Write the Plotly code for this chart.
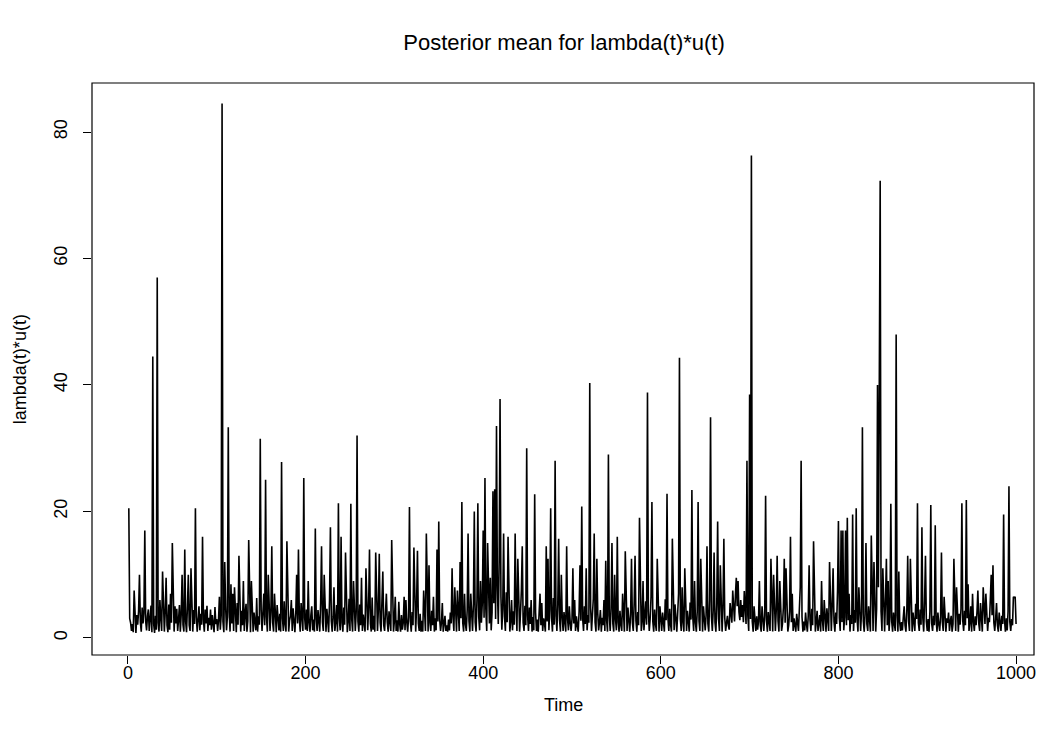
import plotly.graph_objects as go

# Posterior mean of lambda(t)*u(t), t = 1..1000 in blocks of 100
vals_001_100 = [
    20.5, 3.1, 2.4, 1.1, 2.2, 0.9, 7.5, 2.0, 0.8, 3.6,
    2.1, 4.2, 10.0, 2.5, 1.0, 4.8, 2.3, 3.9, 17.0, 2.6,
    1.2, 3.4, 4.5, 1.1, 2.8, 5.1, 0.9, 44.5, 2.2, 0.8,
    3.5, 1.3, 57.0, 2.4, 1.0, 6.0, 3.1, 1.1, 10.5, 2.7,
    1.0, 4.1, 9.5, 2.0, 0.9, 5.3, 1.3, 7.0, 2.4, 15.0,
    3.2, 1.0, 5.0, 2.3, 4.6, 1.1, 2.9, 5.2, 1.0, 3.7,
    10.0, 2.1, 1.0, 14.0, 2.6, 0.9, 5.0, 10.0, 2.0, 1.1,
    11.0, 3.0, 1.0, 4.4, 2.2, 20.5, 3.4, 1.0, 2.5, 5.0,
    1.2, 3.8, 2.1, 16.0, 2.9, 1.0, 4.5, 2.3, 5.1, 1.1,
    3.2, 2.0, 4.5, 1.3, 3.6, 2.4, 0.9, 4.9, 2.2, 3.0,
]
vals_101_200 = [
    1.1, 2.8, 6.5, 1.3, 3.5, 84.5, 2.6, 0.9, 12.0, 5.0,
    1.2, 3.3, 33.3, 4.2, 1.0, 8.5, 2.3, 7.0, 1.1, 8.0,
    3.0, 0.9, 5.5, 2.1, 13.0, 3.6, 1.0, 4.3, 2.0, 9.0,
    1.1, 3.9, 5.4, 1.0, 2.7, 15.5, 3.0, 0.9, 9.0, 2.2,
    1.0, 4.0, 2.5, 1.2, 6.3, 1.0, 3.4, 2.1, 31.5, 4.5,
    1.1, 3.2, 7.0, 2.0, 25.0, 3.3, 1.0, 10.0, 2.8, 1.1,
    4.1, 14.5, 2.4, 1.0, 7.0, 3.6, 0.9, 5.2, 2.0, 1.2,
    3.8, 1.0, 27.8, 3.1, 1.1, 5.8, 2.2, 1.0, 15.3, 4.0,
    1.0, 2.8, 3.5, 6.0, 1.1, 4.7, 2.1, 0.9, 3.9, 10.0,
    2.3, 14.0, 3.0, 1.0, 5.5, 2.0, 1.1, 25.3, 3.2, 1.3,
]
vals_201_300 = [
    4.5, 1.1, 9.0, 2.4, 1.0, 3.6, 5.0, 1.2, 2.9, 1.0,
    17.3, 3.0, 1.1, 4.4, 2.2, 1.0, 5.6, 14.5, 2.5, 1.1,
    10.0, 3.2, 1.0, 4.6, 2.0, 0.9, 6.0, 17.5, 2.7, 1.0,
    3.4, 8.0, 1.1, 2.5, 5.2, 1.0, 21.3, 3.1, 1.2, 16.0,
    2.4, 1.0, 4.8, 2.1, 13.5, 3.5, 0.9, 2.6, 6.2, 1.1,
    21.2, 2.9, 1.0, 9.0, 3.3, 1.1, 4.0, 32.0, 2.6, 1.0,
    5.3, 2.0, 9.5, 1.1, 3.7, 2.2, 1.0, 11.0, 3.0, 1.2,
    4.9, 14.0, 2.3, 1.0, 6.4, 1.3, 3.5, 1.0, 13.5, 2.8,
    1.1, 4.5, 13.3, 2.4, 1.0, 5.8, 10.5, 2.0, 1.1, 3.9,
    7.0, 2.5, 1.0, 4.2, 2.1, 1.1, 15.5, 3.1, 1.0, 2.6,
]
vals_301_400 = [
    6.5, 1.1, 2.8, 1.0, 5.7, 2.2, 1.0, 3.6, 1.3, 2.4,
    6.5, 1.2, 6.0, 2.5, 1.0, 3.3, 20.7, 2.6, 1.0, 4.1,
    2.0, 14.3, 3.2, 1.0, 5.0, 13.8, 2.3, 1.1, 3.8, 1.0,
    2.7, 1.0, 7.5, 2.2, 1.1, 16.5, 3.4, 1.0, 11.5, 2.4,
    1.1, 4.3, 2.0, 6.5, 1.0, 3.1, 1.2, 14.0, 2.6, 18.4,
    3.0, 1.1, 2.4, 5.5, 1.0, 2.2, 3.5, 1.1, 2.0, 1.0,
    2.9, 1.2, 4.0, 2.3, 11.0, 3.4, 1.1, 8.0, 2.5, 1.0,
    7.5, 2.8, 1.1, 12.0, 3.1, 21.5, 2.4, 1.0, 7.0, 2.2,
    1.1, 4.4, 16.5, 2.7, 1.0, 7.0, 3.0, 1.1, 5.2, 20.0,
    2.5, 1.0, 6.0, 21.3, 3.3, 1.2, 9.0, 2.4, 5.5, 17.0,
]
vals_401_500 = [
    3.2, 25.3, 4.5, 1.1, 15.0, 6.8, 2.3, 9.5, 1.2, 4.0,
    23.2, 5.5, 23.5, 3.0, 33.5, 8.0, 2.2, 12.0, 37.8, 6.5,
    1.3, 4.6, 16.5, 3.4, 1.1, 7.2, 2.5, 16.0, 3.8, 1.0,
    2.6, 6.0, 1.2, 4.2, 2.1, 16.5, 5.0, 1.1, 12.5, 2.8,
    1.0, 3.9, 7.5, 14.5, 2.4, 1.1, 5.1, 2.0, 30.0, 3.6,
    1.1, 4.8, 2.2, 6.0, 1.0, 3.3, 1.2, 22.7, 4.0, 1.1,
    2.9, 1.0, 3.8, 7.0, 2.0, 5.5, 1.1, 3.1, 2.4, 1.0,
    14.5, 2.6, 12.5, 1.2, 4.5, 20.5, 3.2, 1.0, 6.3, 2.1,
    28.0, 3.5, 1.1, 5.2, 15.7, 2.8, 1.0, 10.0, 3.3, 1.1,
    4.1, 2.2, 1.0, 14.5, 3.0, 1.2, 5.0, 2.4, 1.1, 3.0,
]
vals_501_600 = [
    11.0, 2.3, 6.0, 1.1, 3.4, 2.0, 1.0, 4.2, 11.5, 2.7,
    20.8, 3.1, 1.1, 5.0, 2.2, 11.0, 1.2, 3.6, 2.4, 40.3,
    4.8, 1.1, 3.0, 6.2, 16.5, 2.5, 1.0, 12.5, 3.9, 1.2,
    2.6, 4.4, 1.0, 3.2, 2.0, 6.0, 1.1, 12.2, 2.8, 1.0,
    29.0, 3.5, 1.1, 4.7, 15.0, 2.3, 1.0, 10.0, 3.0, 1.2,
    16.0, 2.5, 1.0, 4.3, 2.1, 1.1, 7.0, 3.3, 1.0, 13.7,
    2.9, 1.1, 4.8, 2.2, 1.0, 3.7, 12.5, 2.4, 1.1, 5.5,
    13.0, 2.7, 1.0, 4.1, 2.0, 19.0, 3.6, 1.1, 2.5, 9.0,
    1.2, 3.4, 5.8, 2.1, 38.8, 4.2, 1.1, 3.0, 6.5, 21.5,
    2.6, 1.0, 4.5, 2.2, 1.1, 12.5, 3.1, 1.0, 5.0, 2.3,
]
vals_601_700 = [
    1.1, 4.0, 2.3, 1.0, 6.1, 2.8, 22.8, 3.2, 1.1, 4.6,
    2.1, 1.0, 15.7, 3.5, 1.2, 5.3, 2.4, 1.0, 3.9, 7.0,
    44.3, 3.0, 1.1, 8.0, 2.5, 1.0, 11.0, 3.7, 1.1, 4.3,
    2.2, 1.0, 5.6, 2.9, 23.4, 3.3, 1.1, 9.0, 2.4, 1.0,
    4.2, 21.5, 2.7, 1.1, 12.5, 3.1, 1.0, 5.0, 2.0, 1.2,
    3.6, 14.5, 2.3, 1.0, 6.0, 34.9, 3.4, 1.1, 4.4, 13.5,
    2.5, 1.0, 5.2, 18.4, 3.0, 1.1, 11.5, 2.7, 1.0, 4.8,
    15.7, 3.2, 1.1, 2.4, 3.5, 2.0, 1.3, 5.5, 3.0, 2.4,
    7.5, 4.2, 2.6, 6.8, 9.5, 5.0, 9.0, 4.1, 2.8, 6.0,
    3.3, 5.2, 2.5, 7.4, 4.0, 2.2, 28.0, 3.5, 1.1, 38.5,
]
vals_701_800 = [
    3.0, 76.3, 2.6, 1.0, 5.0, 2.2, 1.1, 3.4, 1.3, 2.6,
    9.0, 2.0, 1.0, 5.0, 2.4, 1.1, 3.5, 22.5, 2.8, 1.0,
    4.1, 2.3, 1.1, 12.5, 3.0, 1.0, 10.0, 2.5, 1.1, 4.4,
    13.0, 2.7, 1.0, 9.0, 3.2, 1.1, 2.2, 4.8, 12.5, 2.4,
    11.0, 3.6, 1.0, 2.0, 4.2, 16.0, 2.5, 7.0, 1.1, 3.1,
    2.1, 1.0, 3.8, 2.4, 1.1, 4.5, 8.0, 28.0, 3.3, 1.0,
    2.6, 1.2, 4.0, 2.2, 1.0, 3.5, 11.5, 2.9, 1.1, 4.6,
    2.0, 15.3, 3.1, 1.0, 2.5, 4.3, 1.1, 2.2, 3.6, 1.0,
    9.0, 2.8, 1.1, 6.0, 2.3, 1.0, 4.7, 2.5, 1.1, 12.0,
    3.4, 1.1, 5.3, 11.0, 2.6, 1.0, 4.0, 2.2, 7.5, 18.5,
]
vals_801_900 = [
    3.2, 1.1, 17.0, 2.5, 17.0, 1.2, 3.3, 17.0, 2.0, 19.0,
    2.8, 7.0, 1.0, 3.6, 2.2, 19.5, 1.1, 4.4, 2.4, 20.5,
    3.0, 1.0, 8.0, 2.3, 1.1, 4.1, 33.3, 2.7, 1.0, 3.8,
    15.0, 2.2, 1.1, 5.0, 2.6, 1.0, 16.2, 3.4, 1.1, 12.0,
    2.5, 1.0, 4.6, 40.0, 8.0, 39.0, 72.3, 4.2, 1.1, 11.0,
    2.4, 1.0, 6.0, 12.5, 2.0, 9.0, 1.1, 3.3, 21.2, 2.6,
    1.0, 4.0, 2.2, 1.1, 48.0, 3.5, 1.0, 10.5, 2.4, 1.1,
    2.5, 1.2, 3.2, 5.0, 2.0, 1.0, 4.3, 13.0, 2.6, 1.1,
    12.5, 2.8, 1.0, 4.0, 2.2, 1.1, 5.4, 3.0, 21.3, 2.4,
    1.1, 4.5, 2.1, 17.5, 3.2, 1.0, 5.8, 13.0, 2.6, 1.1,
]
vals_901_1000 = [
    3.0, 1.0, 4.2, 21.0, 2.3, 1.1, 3.5, 2.0, 17.8, 2.8,
    1.0, 4.0, 2.2, 1.1, 3.3, 13.5, 2.5, 1.1, 6.5, 2.0,
    1.0, 3.1, 2.4, 4.0, 1.1, 2.7, 3.5, 1.0, 2.2, 12.5,
    3.0, 1.1, 8.0, 2.5, 1.0, 3.8, 2.1, 4.6, 21.3, 2.7,
    1.1, 4.3, 2.0, 21.8, 3.1, 8.5, 1.1, 2.4, 5.0, 1.0,
    7.0, 2.6, 1.1, 3.4, 2.0, 4.1, 7.5, 2.3, 1.1, 5.5,
    2.8, 1.0, 8.0, 3.0, 2.2, 7.0, 4.5, 1.1, 3.2, 2.5,
    6.0, 10.0, 3.6, 11.5, 2.4, 1.1, 3.0, 5.5, 2.0, 1.0,
    4.0, 2.6, 1.1, 3.5, 2.2, 19.5, 2.8, 1.0, 3.1, 1.2,
    4.2, 24.0, 2.5, 1.1, 3.0, 2.0, 6.5, 6.4, 6.5, 2.2,
]

values = (vals_001_100 + vals_101_200 + vals_201_300 + vals_301_400 + vals_401_500
          + vals_501_600 + vals_601_700 + vals_701_800 + vals_801_900 + vals_901_1000)
time = list(range(1, len(values) + 1))

x_ticks = [0, 200, 400, 600, 800, 1000]
y_ticks = [0, 20, 40, 60, 80]

title_text = "Posterior mean for lambda(t)*u(t)"
x_title = "Time"
y_title = "lambda(t)*u(t)"

FONT = "Liberation Sans, Arial, Helvetica, sans-serif"

# the page body adds an 8px offset; layout below is in page pixels minus that offset
OFF = 8
W, H = 1054 - 2 * OFF, 745 - 2 * OFF
BOX_L, BOX_R, BOX_T, BOX_B = 92 - OFF, 1036 - OFF, 83 - OFF, 655 - OFF
PW, PH = BOX_R - BOX_L, BOX_B - BOX_T


def px_to_paper_x(px):
    return (px - OFF - BOX_L) / PW


def px_to_paper_y(py):
    return (BOX_B - (py - OFF)) / PH


fig = go.Figure()
fig.add_trace(go.Scatter(x=time, y=values, mode="lines",
                         line=dict(color="black", width=1.6),
                         hoverinfo="x+y", showlegend=False))

fig.update_layout(
    width=W, height=H,
    margin=dict(l=BOX_L, r=W - BOX_R, t=BOX_T, b=H - BOX_B, pad=0),
    paper_bgcolor="white", plot_bgcolor="white",
    font=dict(family=FONT, color="black", size=18),
    title=dict(text=title_text, x=(564 - OFF) / W, xref="container", xanchor="center",
               y=1 - (42 - OFF) / H, yref="container", yanchor="middle",
               font=dict(size=22, family=FONT, color="black")),
    xaxis=dict(range=[-40.45, 1020.2], tickmode="array",
               tickvals=x_ticks, ticktext=[str(v) for v in x_ticks],
               ticks="outside", ticklen=8, tickwidth=1, tickcolor="black",
               ticklabelstandoff=-7,
               showgrid=False, zeroline=False, showline=False,
               tickfont=dict(size=18, family=FONT)),
    yaxis=dict(range=[-2.7, 87.75], tickmode="array",
               tickvals=y_ticks, ticktext=[str(v) for v in y_ticks],
               ticks="outside", ticklen=8, tickwidth=1, tickcolor="black",
               tickangle=-90, ticklabelstandoff=9,
               showgrid=False, zeroline=False, showline=False,
               tickfont=dict(size=18, family=FONT)),
    shapes=[dict(type="rect", xref="paper", yref="paper", x0=0, y0=0, x1=1, y1=1,
                 line=dict(color="black", width=1.2), fillcolor="rgba(0,0,0,0)")],
    annotations=[
        dict(text=x_title, xref="paper", yref="paper", x=0.5, y=px_to_paper_y(705),
             xanchor="center", yanchor="middle", showarrow=False,
             font=dict(size=18, family=FONT)),
        dict(text=y_title, xref="paper", yref="paper", x=px_to_paper_x(20), y=0.5,
             xanchor="center", yanchor="middle", textangle=-90, showarrow=False,
             font=dict(size=18, family=FONT)),
    ],
)

fig.write_html("out.html")
